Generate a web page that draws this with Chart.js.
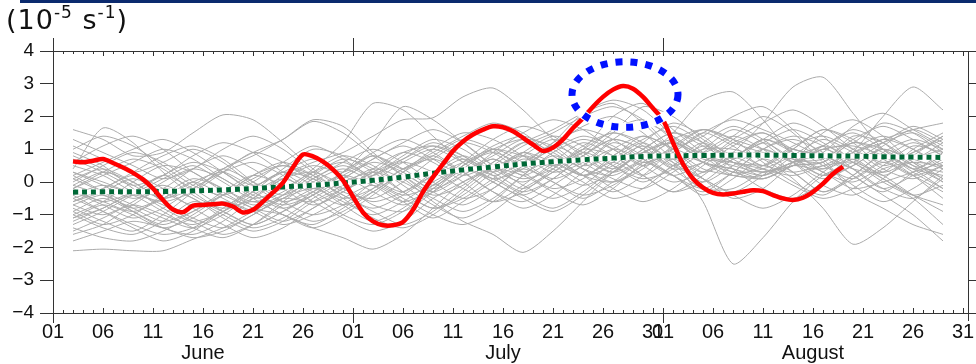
<!DOCTYPE html>
<html>
<head>
<meta charset="utf-8">
<script src="https://cdn.jsdelivr.net/npm/chart.js@4.4.1/dist/chart.umd.min.js"></script>
<style>
  html, body { margin: 0; padding: 0; background: #fff; }
  #wrap { position: relative; width: 976px; height: 364px; overflow: hidden; }
  #bar { position: absolute; left: 20px; top: 0; width: 956px; height: 3px; background: #0b2a6e; }
  #unit { position: absolute; left: 6px; top: 4px; font: 27px "DejaVu Sans", sans-serif; letter-spacing: 1px; color: #111; white-space: nowrap; }
  #unit sup { font-size: 17px; vertical-align: 11px; line-height: 0; }
  canvas { position: absolute; left: 0; top: 0; }
</style>
</head>
<body>
<div id="wrap">
  <canvas id="vort" width="976" height="364"></canvas>
  <div id="bar"></div>
  <div id="unit">(10<sup>-5</sup> s<sup>-1</sup>)</div>
</div>
<script>
// x is a day index: 0 = 1 June, 30 = 1 July, 61 = 1 August, 91 = 31 August
const MONTHS = ['June', 'July', 'August'];
const MONTH_START = [0, 30, 61];
const LABEL_DATES = [1, 6, 11, 16, 21, 26, 31];
const Y_TICKS = [-4, -3, -2, -1, 0, 1, 2, 3, 4];

// past years, sampled every third day
const YEAR_DAYS = [2, 5, 8, 11, 14, 17, 20, 23, 26, 29, 32, 35, 38, 41, 44, 47, 50, 53, 56, 59, 62, 65, 68, 71, 74, 77, 80, 83, 86, 89];
const PAST_YEARS = [
  [-2.10, -2.05, -2.10, -2.10, -1.75, -1.40, -0.90, -0.50, -0.60, -0.20, 0.30, 0.90, 1.10, 0.70, 0.20, -0.30, 0.10, 0.80, 1.30, 1.00, 0.40, 0.60, 1.20, 1.50, 0.90, 0.30, 0.00, 0.50, 1.10, 0.90],
  [1.60, 1.30, 0.80, 0.90, 1.50, 2.05, 1.90, 1.20, 0.40, -0.20, -0.60, -0.30, 0.20, 0.60, 1.00, 0.80, 0.50, 0.90, 1.60, 1.90, 1.30, 0.60, 0.20, 0.50, 1.10, 1.40, 1.00, 0.60, 0.90, 1.30],
  [0.40, 1.65, 1.20, 0.30, -0.40, -0.80, -0.50, 0.10, 0.30, -0.10, -0.70, -0.90, -0.30, 0.50, 1.00, 1.30, 0.90, 0.40, 0.20, 0.70, 1.50, 2.50, 2.75, 1.90, 0.80, 0.20, 0.50, 1.10, 1.60, 1.20],
  [-0.80, -1.20, -1.50, -1.00, -0.30, 0.40, 0.80, 1.30, 1.90, 1.70, 0.90, 0.20, -0.40, -0.10, 0.60, 1.20, 1.60, 2.10, 2.40, 1.80, 0.90, 0.10, -0.50, -0.20, 0.60, 1.50, 1.90, 1.40, 0.60, 0.10],
  [-0.20, 0.30, 0.70, 0.40, -0.30, -0.90, -1.30, -0.90, -0.40, 0.30, 1.20, 2.30, 1.90, 1.20, 0.50, 0.10, 0.40, 1.00, 0.80, 0.20, -0.30, 0.20, 0.90, 1.80, 2.90, 3.20, 2.10, 1.00, 0.40, 0.20],
  [-1.60, -1.30, -0.70, -0.20, -0.50, -1.10, -1.50, -1.20, -0.60, -0.10, 0.40, 0.10, -0.60, -1.20, -1.60, -2.15, -1.50, -0.60, 0.30, 0.90, 1.20, 0.80, 0.60, 0.40, 0.20, 0.50, 0.90, 1.20, 1.50, 1.00],
  [0.90, 0.50, -0.20, -0.80, -1.20, -0.90, -0.30, 0.40, 1.00, 0.80, 0.30, -0.30, -0.80, -0.40, 0.30, 0.90, 1.40, 1.10, 0.50, 0.10, 0.40, 1.20, 1.70, 1.30, 0.60, -0.10, -0.40, 0.10, 0.80, 1.40],
  [-1.00, -0.60, 0.00, 0.50, 0.30, -0.30, -0.80, -1.00, -1.40, -1.70, -2.05, -1.60, -0.80, 0.00, 0.40, 0.20, -0.30, -0.70, -0.20, 0.60, 1.30, 1.60, 1.30, 1.00, 0.70, 0.30, -0.20, 0.00, 0.30, 0.60],
  [0.20, -0.30, -0.90, -1.40, -1.60, -1.20, -0.50, 0.20, 0.60, 0.90, 1.40, 1.90, 1.96, 2.60, 2.87, 2.20, 1.30, 0.60, 0.10, -0.20, 0.30, 0.90, 1.40, 1.00, 0.30, -0.30, 0.10, 0.70, 1.20, 0.80],
  [-0.50, -0.90, -1.30, -1.60, -1.40, -0.80, -0.20, 0.30, 0.10, -0.40, -0.90, -1.30, -0.90, -0.20, 0.50, 1.10, 1.50, 2.00, 2.30, 1.90, 1.00, 0.60, 0.30, 0.10, 0.50, 1.00, 1.20, 1.80, 1.50, 0.90],
  [1.30, 0.90, 0.50, 0.10, 0.40, 1.00, 1.40, 1.00, 0.30, -0.30, -0.50, 0.00, 0.70, 1.20, 0.90, 0.30, -0.20, 0.10, 0.80, 1.30, 1.70, 1.20, 0.40, -0.20, -0.50, 0.00, 0.90, 2.00, 2.90, 2.20],
  [-0.60, -0.20, 0.30, 0.80, 1.10, 0.70, 0.00, -0.60, -1.00, -0.70, 0.00, 0.60, 1.00, 0.60, 0.00, -0.40, 0.10, 0.80, 1.50, 2.30, 2.00, 1.30, 0.80, 0.40, -0.10, -0.50, -0.20, 0.40, 0.60, 0.50],
  [-1.40, -1.70, -1.80, -1.50, -1.00, -0.40, 0.20, 0.60, 0.20, -0.50, -1.10, -1.40, -1.00, -0.30, 0.40, 0.80, 0.50, 0.00, -0.50, -0.20, 0.50, 1.00, 1.00, 0.70, 0.10, -0.80, -1.90, -1.40, -0.60, 0.20],
  [0.60, 1.10, 1.40, 1.00, 0.30, -0.20, -0.60, -0.30, 0.40, 1.20, 2.40, 2.20, 1.40, 0.60, 0.10, 0.40, 1.10, 1.70, 2.00, 1.50, 0.70, 0.10, -0.30, 0.20, 1.00, 1.60, 1.30, 0.70, 0.20, -0.30],
  [-0.30, -0.70, -1.10, -0.80, -0.20, 0.30, 0.60, 0.20, -0.40, -1.00, -1.30, -0.90, -0.20, 0.50, 1.10, 1.40, 1.00, 0.40, 0.00, 0.40, 1.10, 1.60, 1.20, 0.90, 0.70, 0.60, 1.20, 0.90, 0.30, -0.20],
  [-1.10, -0.80, -0.30, 0.20, 0.60, 0.30, -0.30, -0.80, -1.20, -0.90, -0.30, 0.30, 0.80, 1.30, 1.00, 0.50, 1.20, 2.10, 2.50, 2.20, 1.40, 0.60, 0.40, 0.20, 0.50, 0.40, 1.00, 1.40, 1.00, 0.40],
  [0.10, 0.40, 0.00, -0.60, -1.10, -1.40, -1.00, -0.40, 0.30, 0.80, 0.50, -0.10, -0.70, -1.10, -0.60, 0.20, 0.90, 1.30, 1.00, 0.50, 0.90, 1.50, 1.90, 1.60, 1.20, 0.70, -0.30, -0.80, -1.30, -1.60],
  [-1.80, -1.50, -1.20, -1.40, -1.70, -1.50, -1.00, -0.50, -0.20, -0.60, -1.00, -0.60, 0.00, 0.40, 0.00, -0.50, -0.90, -0.40, 0.30, 0.90, 1.20, 0.70, 0.60, 0.30, 0.60, 1.00, 1.10, 0.80, 0.20, -0.50],
  [0.80, 0.40, -0.10, -0.50, -0.20, 0.40, 0.90, 1.30, 1.85, 1.50, 0.80, 0.20, -0.30, 0.20, 0.90, 1.50, 1.90, 1.60, 1.00, 0.50, 0.00, 0.30, 0.80, 1.20, 1.60, 1.20, 0.60, 0.10, -0.40, -0.70],
  [-0.90, -0.50, -0.90, -1.30, -0.90, -0.30, 0.20, -0.10, -0.60, -1.10, -1.50, -1.20, -0.50, 0.00, 0.40, 0.90, 0.60, 0.20, 0.50, 1.20, 1.80, 1.40, 0.70, 0.30, 0.60, 1.10, 0.70, 0.10, -0.40, -0.10],
  [0.30, -0.10, -0.50, -0.20, 0.40, 0.80, 0.40, -0.20, -0.70, -0.30, 0.40, 0.90, 0.60, 0.00, -0.60, -0.30, 0.40, 1.10, 1.50, 1.20, 0.50, 0.10, -0.40, -0.80, -0.40, 0.30, 0.90, 1.30, 1.60, 1.80],
  [-0.40, -0.90, -1.40, -1.80, -1.50, -0.90, -0.60, -1.00, -1.40, -1.00, -0.40, 0.30, 1.00, 1.50, 1.30, 0.80, 0.30, 0.60, 1.30, 1.80, 1.40, 0.80, 0.20, 0.20, 0.60, 0.70, 1.30, 1.70, 1.30, 0.80],
  [1.10, 0.70, 0.30, 0.60, 1.00, 0.60, -0.10, -0.60, -0.30, 0.20, 0.70, 1.20, 1.60, 1.20, 0.50, -0.10, -0.50, -0.10, 0.60, 1.10, 0.60, -0.60, -2.50, -1.70, -0.60, 0.20, 0.60, 1.00, 0.70, 0.40],
  [-1.20, -0.80, -0.40, -0.70, -1.20, -1.60, -1.30, -0.70, -0.20, 0.20, -0.10, -0.60, -0.20, 0.50, 0.90, 0.50, 0.00, -0.40, -0.10, 0.50, 1.00, 1.40, 2.00, 2.30, 1.60, 0.80, 0.20, -0.40, -1.00, -1.80],
  [0.00, 0.50, 0.90, 0.60, 0.00, -0.50, -0.90, -0.50, 0.10, 0.60, 1.00, 0.60, 0.00, -0.50, -0.20, 0.50, 1.20, 1.60, 1.30, 0.70, 0.20, 0.60, 1.30, 1.80, 2.20, 1.70, 1.00, 0.40, 0.10, 0.50],
  [-0.70, -1.00, -0.60, 0.00, 0.40, 0.10, -0.50, -1.00, -1.30, -0.80, -0.20, 0.40, 0.70, 0.30, -0.30, -0.80, -0.40, 0.30, 1.00, 1.40, 1.00, 0.40, 0.20, 0.10, 0.50, 0.60, 1.20, 1.00, 0.50, 0.30],
  [-0.10, -0.40, -0.80, -1.20, -0.90, -0.40, 0.10, 0.50, 0.20, -0.20, 0.20, 0.80, 1.30, 1.00, 0.40, 0.00, 0.50, 1.00, 2.00, 2.40, 1.60, 0.90, 0.30, 0.40, 0.80, 1.10, 1.60, 1.20, 0.50, 0.00],
  [-1.30, -0.90, -0.40, -0.10, -0.50, -1.00, -1.40, -1.10, -0.50, 0.00, 0.30, 0.00, -0.50, -0.90, -0.50, 0.20, 0.80, 0.40, -0.20, -0.60, -0.20, 0.50, 1.10, 1.50, 1.00, 0.80, 0.40, -0.20, -0.50, 0.10],
  [0.50, 0.20, -0.30, -0.60, -0.30, 0.30, 0.90, 0.60, 0.00, -0.50, -0.20, 0.40, 0.90, 1.40, 1.80, 1.50, 0.80, 0.20, -0.30, 0.20, 1.00, 1.60, 1.30, 0.60, 0.00, -0.40, 0.20, 0.90, 1.30, 1.00],
  [-0.50, -0.20, 0.20, -0.20, -0.80, -1.30, -1.70, -1.40, -0.80, -0.30, 0.20, 0.60, 0.30, -0.20, -0.60, -0.10, 0.60, 1.20, 0.80, 0.20, -0.30, 0.00, 0.70, 1.30, 1.00, 0.80, 0.40, 0.30, 1.00, 1.50],
  [1.00, 1.40, 1.10, 0.50, -0.10, -0.40, 0.00, 0.60, 1.10, 0.70, 0.10, -0.40, -0.10, 0.60, 1.30, 1.70, 1.40, 0.80, 0.30, 0.70, 1.20, 0.80, 0.50, 0.30, 0.60, 0.90, 1.70, 2.10, 1.60, 1.10],
  [-1.50, -1.10, -0.70, -1.00, -1.30, -0.90, -0.20, 0.30, -0.10, -0.70, -1.20, -0.80, -0.10, 0.40, 0.10, -0.40, -0.80, -0.30, 0.40, 1.00, 1.50, 1.20, 0.60, 0.50, 0.30, 0.50, 0.60, 0.20, -0.40, -0.90],
  [-0.20, 0.20, 0.60, 1.00, 0.70, 0.10, -0.40, -0.80, -0.40, 0.30, 0.90, 1.30, 0.90, 0.30, -0.30, -0.60, -0.10, 0.50, 1.00, 0.70, 0.20, -0.20, 0.30, 1.00, 1.40, 1.10, 0.40, -0.20, 0.20, 0.70],
  [-0.90, -1.30, -1.00, -0.40, 0.10, -0.20, -0.70, -0.40, 0.20, 0.70, 0.40, -0.30, -0.80, -0.50, 0.10, 0.70, 0.40, -0.10, 0.30, 0.90, 1.30, 0.90, 1.40, 2.00, 1.50, 0.60, -0.10, -0.60, -0.20, 0.40],
  [0.70, 0.30, -0.10, 0.20, 0.80, 1.20, 0.90, 0.30, -0.20, 0.10, 0.70, 1.10, 0.70, 0.20, 0.60, 1.20, 0.80, 0.20, 0.00, 0.50, 1.00, 0.60, 0.40, 0.10, 0.50, 0.60, 1.40, 1.20, 0.60, 0.00],
  [-0.40, -0.10, -0.40, -0.90, -1.40, -1.70, -1.30, -0.60, 0.00, 0.40, 0.00, -0.50, -1.00, -1.30, -0.90, -0.20, 0.30, 0.80, 1.30, 1.00, 0.40, -0.20, -0.20, 0.30, 0.50, 1.00, 0.60, 0.00, -0.50, -1.30],
  [0.20, 0.60, 1.00, 1.30, 0.90, 0.30, -0.30, -0.70, -0.40, 0.10, 0.60, 0.30, -0.30, -0.70, -0.20, 0.50, 1.00, 1.40, 1.10, 0.60, 0.90, 1.50, 1.10, 0.50, 1.00, 1.60, 1.20, 0.50, 0.90, 1.40],
  [-1.00, -1.40, -1.60, -1.20, -0.60, -0.90, -1.30, -0.90, -0.30, 0.30, 0.80, 0.40, -0.10, 0.40, 1.00, 0.60, 0.10, 0.50, 1.20, 0.80, 0.20, -0.30, 0.30, 1.00, 1.30, 0.90, 0.20, -0.30, 0.30, 0.90],
  [0.10, -0.30, -0.70, -1.10, -1.40, -1.00, -0.40, 0.10, 0.50, 0.20, -0.30, -0.70, -0.30, 0.30, 0.80, 1.30, 1.10, 0.50, 0.80, 1.40, 1.00, 0.30, 0.70, 1.30, 0.90, 0.40, 0.80, 1.30, 1.00, 0.50],
  [-0.60, -0.30, 0.10, -0.30, -0.70, -0.40, 0.20, 0.50, 0.10, -0.40, -0.80, -0.40, 0.20, 0.70, 0.30, -0.20, 0.30, 0.90, 0.50, 0.00, 0.50, 1.10, 0.80, 1.30, 1.80, 1.40, 0.70, 1.20, 1.70, 1.30],
  [-0.30, -0.60, -0.90, -0.50, 0.00, -0.40, -0.80, -1.20, -0.80, -0.20, 0.30, 0.70, 1.10, 0.80, 0.30, 0.80, 1.30, 0.90, 0.40, 0.90, 0.60, 0.00, 0.50, 1.00, 0.60, 0.10, 0.50, 1.00, 0.70, 1.20],
  [0.30, 0.00, -0.30, 0.10, 0.50, 0.00, -0.50, -0.20, 0.30, 0.60, 0.20, 0.70, 1.20, 0.80, 0.20, 0.60, 1.10, 0.70, 0.30, 1.00, 1.50, 1.10, 0.60, 0.20, 0.80, 1.30, 0.90, 0.30, 0.70, 1.00],
  [-1.10, -0.70, -1.00, -1.40, -1.10, -0.60, -0.90, -1.30, -1.00, -0.50, -0.10, -0.60, -1.10, -0.60, 0.00, 0.40, 0.00, -0.50, 0.00, 0.60, 0.20, -0.40, 0.10, 0.70, 0.30, -0.30, 0.20, 0.80, 0.40, -0.20],
  [-0.10, 0.30, 0.00, -0.50, -0.10, 0.40, 0.00, -0.40, 0.10, 0.50, 0.10, -0.30, 0.30, 0.80, 0.40, 0.90, 0.50, 1.00, 1.50, 1.10, 0.50, 1.00, 1.60, 1.20, 0.60, 1.10, 1.50, 1.00, 0.40, 0.80],
  [-0.70, -0.40, -0.80, -0.50, 0.00, 0.30, -0.10, 0.30, 0.70, 0.30, 0.80, 0.40, 0.80, 0.30, 0.70, 0.30, 0.70, 0.20, 0.60, 0.20, 0.70, 0.30, 0.90, 0.50, 1.00, 0.50, 0.10, 0.60, 0.20, 0.50],
  [-0.20, -0.60, -0.30, 0.20, -0.20, -0.70, -0.30, 0.10, -0.30, -0.70, -0.30, 0.20, -0.20, 0.20, 0.70, 0.20, 0.60, 0.20, 0.70, 1.20, 0.70, 1.20, 0.70, 1.20, 0.70, 0.20, 0.70, 0.20, 0.60, 0.10]
];

// climatological mean on the same days
const CLIMATOLOGY = [-0.31, -0.30, -0.30, -0.29, -0.27, -0.24, -0.20, -0.15, -0.10, -0.03, 0.05, 0.15, 0.27, 0.37, 0.46, 0.55, 0.62, 0.68, 0.73, 0.78, 0.80, 0.81, 0.82, 0.82, 0.81, 0.80, 0.79, 0.77, 0.76, 0.75];

// this year, daily from 3 June
const THIS_YEAR_START = 2;
const THIS_YEAR = [
  0.63, 0.60, 0.65, 0.70, 0.58, 0.44, 0.28, 0.08, -0.20, -0.55,
  -0.84, -0.92, -0.72, -0.70, -0.68, -0.66, -0.75, -0.93, -0.85, -0.60,
  -0.32, -0.02, 0.45, 0.84, 0.78, 0.62, 0.38, 0.05, -0.45, -0.93,
  -1.20, -1.32, -1.32, -1.22, -0.85, -0.30, 0.15, 0.55, 0.95, 1.24,
  1.45, 1.60, 1.70, 1.67, 1.55, 1.35, 1.14, 0.95, 1.05, 1.30,
  1.65, 1.95, 2.30, 2.60, 2.82, 2.93, 2.85, 2.60, 2.25, 1.90,
  1.20, 0.55, 0.10, -0.17, -0.33, -0.38, -0.35, -0.30, -0.25, -0.28,
  -0.40, -0.50, -0.55, -0.48, -0.30, -0.05, 0.25, 0.47
];

// circled peak (centre day/value and half extents)
const HIGHLIGHT = { day: 57.2, value: 2.67, halfDays: 5.3, halfValue: 1.0 };

const X_MAX = 91.5;
const AXIS = '#333';
const TEXT = '#111';

const pad2 = (n) => (n < 10 ? '0' : '') + n;

function monthOf(d) {
  let m = MONTH_START.length - 1;
  while (d < MONTH_START[m]) m--;
  return m;
}

function dayLabel(d) {
  if (!Number.isInteger(d)) return '';
  const m = monthOf(d);
  const dom = d - MONTH_START[m] + 1;
  if (!LABEL_DATES.includes(dom)) return '';
  return dom === 16 ? [pad2(dom), MONTHS[m]] : pad2(dom);
}

const toPoints = (days, values) => values.map((v, i) => ({ x: days[i], y: v }));

const datasets = [
  {
    data: THIS_YEAR.map((v, i) => ({ x: THIS_YEAR_START + i, y: v })),
    borderColor: '#ff0000',
    borderWidth: 4.5,
    tension: 0.3,
    order: 0
  },
  {
    data: toPoints(YEAR_DAYS, CLIMATOLOGY),
    borderColor: '#006837',
    borderWidth: 5,
    borderDash: [5, 4],
    borderCapStyle: 'butt',
    tension: 0.4,
    order: 1
  },
  {
    data: toPoints(YEAR_DAYS, CLIMATOLOGY),
    borderColor: '#ffffff',
    borderWidth: 5,
    tension: 0.4,
    order: 2
  },
  ...PAST_YEARS.map((vals) => ({
    data: toPoints(YEAR_DAYS, vals),
    borderColor: '#ababab',
    borderWidth: 1,
    tension: 0.25,
    order: 3
  }))
];

// daily ticks pointing into the frame, longer ticks at month starts
const frameTicks = {
  id: 'frameTicks',
  afterDraw(chart) {
    const { ctx, chartArea: a, scales: { x } } = chart;
    ctx.save();
    ctx.strokeStyle = AXIS;
    ctx.lineWidth = 1;
    ctx.beginPath();
    for (let d = 0; d <= 91; d++) {
      const px = Math.round(x.getPixelForValue(d)) + 0.5;
      const len = dayLabel(d) ? 5 : 3;
      ctx.moveTo(px, a.top);
      ctx.lineTo(px, a.top + len);
      ctx.moveTo(px, a.bottom);
      ctx.lineTo(px, a.bottom - len);
    }
    MONTH_START.forEach((d) => {
      const px = Math.round(x.getPixelForValue(d)) + 0.5;
      ctx.moveTo(px, a.top);
      ctx.lineTo(px, a.top - 13);
      ctx.moveTo(px, a.bottom);
      ctx.lineTo(px, a.bottom + 10);
    });
    ctx.moveTo(Math.round(a.right) + 0.5, a.bottom);
    ctx.lineTo(Math.round(a.right) + 0.5, a.bottom + 8);
    ctx.stroke();
    ctx.restore();
  }
};

// dotted ring around the peak
const peakRing = {
  id: 'peakRing',
  afterDatasetsDraw(chart) {
    const { ctx, scales: { x, y } } = chart;
    const cx = x.getPixelForValue(HIGHLIGHT.day);
    const cy = y.getPixelForValue(HIGHLIGHT.value);
    const rx = x.getPixelForValue(HIGHLIGHT.day + HIGHLIGHT.halfDays) - cx;
    const ry = cy - y.getPixelForValue(HIGHLIGHT.value + HIGHLIGHT.halfValue);
    ctx.save();
    ctx.beginPath();
    ctx.ellipse(cx, cy, rx, ry, 0, 0, Math.PI * 2);
    ctx.strokeStyle = '#ffffff';
    ctx.lineWidth = 9;
    ctx.stroke();
    ctx.setLineDash([7, 8]);
    ctx.strokeStyle = '#0010ff';
    ctx.lineWidth = 7;
    ctx.stroke();
    ctx.restore();
  }
};

new Chart(document.getElementById('vort'), {
  type: 'line',
  data: { datasets },
  plugins: [frameTicks, peakRing],
  options: {
    responsive: false,
    animation: false,
    layout: { padding: 0 },
    elements: { point: { radius: 0 }, line: { fill: false } },
    plugins: { legend: { display: false }, tooltip: { enabled: false } },
    scales: {
      x: {
        type: 'linear',
        position: 'bottom',
        min: 0,
        max: X_MAX,
        afterFit: (s) => { s.height = 51; },
        afterBuildTicks: (s) => { s.ticks = Array.from({ length: 92 }, (_, d) => ({ value: d })); },
        grid: { display: false },
        border: { color: AXIS, width: 1 },
        ticks: {
          autoSkip: false,
          maxRotation: 0,
          minRotation: 0,
          padding: 1,
          color: TEXT,
          font: { family: '"Liberation Sans", sans-serif', size: 20, lineHeight: 1.05 },
          callback: (v) => dayLabel(v)
        }
      },
      xTop: {
        type: 'linear',
        position: 'top',
        min: 0,
        max: X_MAX,
        afterFit: (s) => { s.height = 51; },
        grid: { display: false },
        border: { color: AXIS, width: 1 },
        ticks: { display: false }
      },
      y: {
        position: 'left',
        min: -4,
        max: 4,
        afterFit: (s) => { s.width = 53; },
        afterBuildTicks: (s) => { s.ticks = Y_TICKS.map((v) => ({ value: v })); },
        grid: { drawOnChartArea: false, tickLength: 13, tickColor: AXIS },
        border: { color: AXIS, width: 1 },
        ticks: {
          padding: 6,
          color: TEXT,
          font: { family: '"Liberation Sans", sans-serif', size: 19 },
          callback: (v) => (v < 0 ? '\u2212' + Math.abs(v) : String(v))
        }
      },
      yRight: {
        position: 'right',
        min: -4,
        max: 4,
        afterFit: (s) => { s.width = 8; },
        afterBuildTicks: (s) => { s.ticks = Y_TICKS.map((v) => ({ value: v })); },
        grid: { drawOnChartArea: false, tickLength: 8, tickColor: AXIS },
        border: { color: AXIS, width: 1 },
        ticks: { display: false }
      }
    }
  }
});
</script>
</body>
</html>
